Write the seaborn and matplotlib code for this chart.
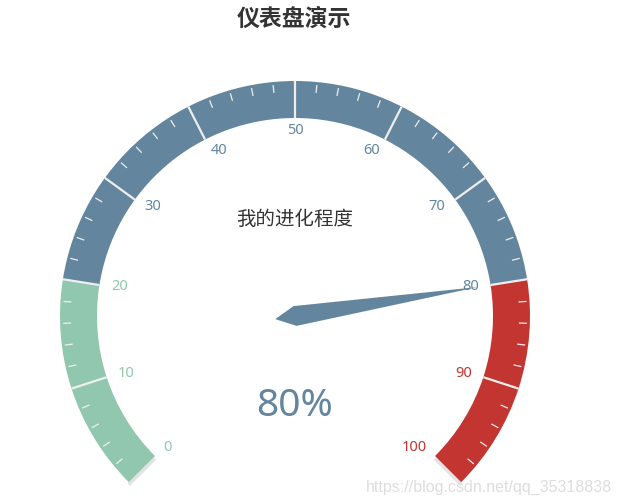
import numpy as np
import matplotlib.pyplot as plt
import seaborn as sns
from matplotlib.patches import Wedge, Polygon

# gauge data
title = "仪表盘演示"
series_name = "我的进化程度"
value = 80
v_min, v_max = 0, 100
band_stops = [0.2, 0.8, 1.0]
band_colors = ["#91c7ae", "#63869e", "#c23531"]
tick_labels = [str(v) for v in range(0, 101, 10)]

sns.set_theme(style="white")
plt.rcParams['font.family'] = ['Noto Sans CJK SC', 'DejaVu Sans']

W, H = 619, 504
fig = plt.figure(figsize=(W / 100, H / 100), dpi=100)
ax = fig.add_axes([0, 0, 1, 1])
ax.set_xlim(0, W)
ax.set_ylim(0, H)
ax.set_aspect("equal")
ax.axis("off")

cx, cy = 295, H - 316
R = 235
ring = 37
start_ang, end_ang = 225, -45


def ang(v):
    return start_ang - (v - v_min) / (v_max - v_min) * (start_ang - end_ang)


def band_color(v):
    frac = (v - v_min) / (v_max - v_min)
    for stop, c in zip(band_stops, band_colors):
        if frac <= stop + 1e-9:
            return c
    return band_colors[-1]


# faint shadow along the two end caps of the ring
for v in (v_min, v_max):
    a = np.deg2rad(ang(v))
    d = np.array([np.cos(a), np.sin(a)])
    p0 = np.array([cx, cy - 2.5]) + d * (R - ring)
    p1 = np.array([cx, cy - 2.5]) + d * R
    ax.plot([p0[0], p1[0]], [p0[1], p1[1]], color="#e3e3e3", lw=2.5,
            solid_capstyle="butt", zorder=1)

# coloured bands
prev = 0.0
for stop, c in zip(band_stops, band_colors):
    v0 = v_min + prev * (v_max - v_min)
    v1 = v_min + stop * (v_max - v_min)
    ax.add_patch(Wedge((cx, cy), R, ang(v1), ang(v0), width=ring,
                       facecolor=c, edgecolor="none", zorder=2))
    prev = stop

# split lines and minor ticks
for v in np.arange(v_min, v_max + 0.01, 2):
    a = np.deg2rad(ang(v))
    d = np.array([np.cos(a), np.sin(a)])
    if v % 10 == 0:
        if v in (v_min, v_max):
            continue
        p0 = (cx, cy) + d * (R - ring)
        p1 = (cx, cy) + d * R
        ax.plot([p0[0], p1[0]], [p0[1], p1[1]], color="#eeeeee", lw=1.6,
                solid_capstyle="butt", zorder=3)
    else:
        p0 = (cx, cy) + d * (R - 11)
        p1 = (cx, cy) + d * (R - 3)
        ax.plot([p0[0], p1[0]], [p0[1], p1[1]], color="#eeeeee", lw=0.9,
                solid_capstyle="butt", zorder=3)

# axis labels
r_lab = 186
for lab in tick_labels:
    v = float(lab)
    a = np.deg2rad(ang(v))
    c, s = np.cos(a), np.sin(a)
    ha = "left" if c < -0.4 else ("right" if c > 0.4 else "center")
    ax.text(cx + r_lab * c, cy + r_lab * s, lab, ha=ha, va="center",
            fontsize=10.5, color=band_color(v), family=['Noto Sans', 'DejaVu Sans'],
            zorder=4)

# pointer
a = np.deg2rad(ang(value))
d = np.array([np.cos(a), np.sin(a)])
n = np.array([-d[1], d[0]])
ctr = np.array([cx, cy])
L, half_w, tail = 185, 10, 20
pts = [ctr + d * L, ctr + n * half_w, ctr - d * tail, ctr - n * half_w]
ax.add_patch(Polygon(pts, closed=True, facecolor=band_color(value),
                     edgecolor="none", zorder=5))

# texts
ax.text(294, H - 19, title, ha="center", va="center", fontsize=16.5,
        fontweight="bold", color="#333333")
ax.text(cx, H - 219, series_name, ha="center", va="center", fontsize=14,
        color="#333333")
ax.text(cx, H - 406, f"{value}%", ha="center", va="center", fontsize=28,
        color="#63869e", family=['Noto Sans', 'DejaVu Sans'])
ax.text(W - 7, H - 487, "https://blog.csdn.net/qq_35318838", ha="right",
        va="center", fontsize=11.5, color="#dddddd",
        family=['Liberation Sans', 'DejaVu Sans'], zorder=6)

fig.savefig("out.png", dpi=100)
